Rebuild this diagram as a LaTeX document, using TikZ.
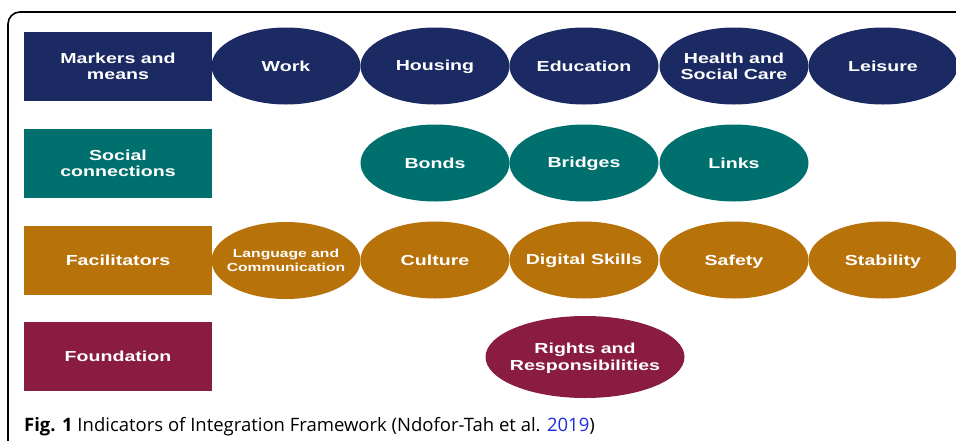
\documentclass[tikz,border=0pt]{standalone}
\usepackage{fontspec}
\setmainfont{Liberation Sans}
\newfontfamily\nodefont[FakeStretch=1.35]{Liberation Sans}
\newfontfamily\capfont{Open Sans}
\usetikzlibrary{shapes.geometric}
\definecolor{navy}{HTML}{1B2A63}
\definecolor{tealc}{HTML}{00706F}
\definecolor{ochre}{HTML}{B8720A}
\definecolor{maroon}{HTML}{891C40}
\definecolor{linkblue}{HTML}{1A2BE0}
\newcommand{\ms}{\rule[-3pt]{0pt}{16pt}}
\newcommand{\mss}{\rule[-2.4pt]{0pt}{13.1pt}}
\tikzset{
  bigtext/.style={font=\nodefont\fontsize{14.5}{16}\selectfont\bfseries},
  catbox/.style={rectangle, minimum width=188pt, minimum height=69pt, inner sep=0pt, text=white, bigtext, align=center},
  item/.style={ellipse, minimum width=149pt, minimum height=77pt, inner xsep=-60pt, inner ysep=-15pt, text=white, bigtext, align=center},
}
\begin{document}
\begin{tikzpicture}[x=1pt,y=-1pt]
\useasboundingbox (0,0) rectangle (956,440);
\draw[line width=1.6pt, rounded corners=12pt] (8,441) -- (8,12) -- (957,12);
% row 1
\node[catbox, fill=navy] (mm) at (118,66.5) {\ms Markers and\\means\ms};
\node[item, fill=navy] (work) at (286,66) {\ms Work};
\node[item, fill=navy] (housing) at (435,66) {\ms Housing};
\node[item, fill=navy] (edu) at (584,66) {\ms Education};
\node[item, fill=navy] (health) at (734,66) {\ms Health and\\Social Care\ms};
\node[item, fill=navy] (leisure) at (883,66) {\ms Leisure};
% row 2
\node[catbox, fill=tealc] (sc) at (118,163) {\ms Social\\connections\ms};
\node[item, fill=tealc] (bonds) at (435,163) {\ms Bonds};
\node[item, fill=tealc] (bridges) at (584,163) {\ms Bridges};
\node[item, fill=tealc] (links) at (734,163) {\ms Links};
% row 3
\node[catbox, fill=ochre] (fac) at (118,260.5) {\ms Facilitators};
\node[item, fill=ochre, font=\nodefont\fontsize{11.6}{12.5}\selectfont\bfseries] (lang) at (286,260.5) {\mss Language and\\Communication\mss};
\node[item, fill=ochre] (cult) at (435,260) {\ms Culture};
\node[item, fill=ochre] (dig) at (584,260) {\ms Digital Skills};
\node[item, fill=ochre] (safe) at (734,260) {\ms Safety};
\node[item, fill=ochre] (stab) at (883,260) {\ms Stability};
% row 4
\node[catbox, fill=maroon] (found) at (118,356.5) {\ms Foundation};
\node[item, fill=maroon, minimum width=199pt, minimum height=82pt] (rights) at (585,357) {\ms Rights and\\Responsibilities\ms};
% caption
\node[anchor=base west, inner sep=0pt, font=\capfont\fontsize{18.5}{22}\selectfont] (cap) at (24,431) {\textbf{Fig. 1} Indicators of Integration Framework (Ndofor-Tah et al. \textcolor{linkblue}{2019})};
\end{tikzpicture}
\end{document}
